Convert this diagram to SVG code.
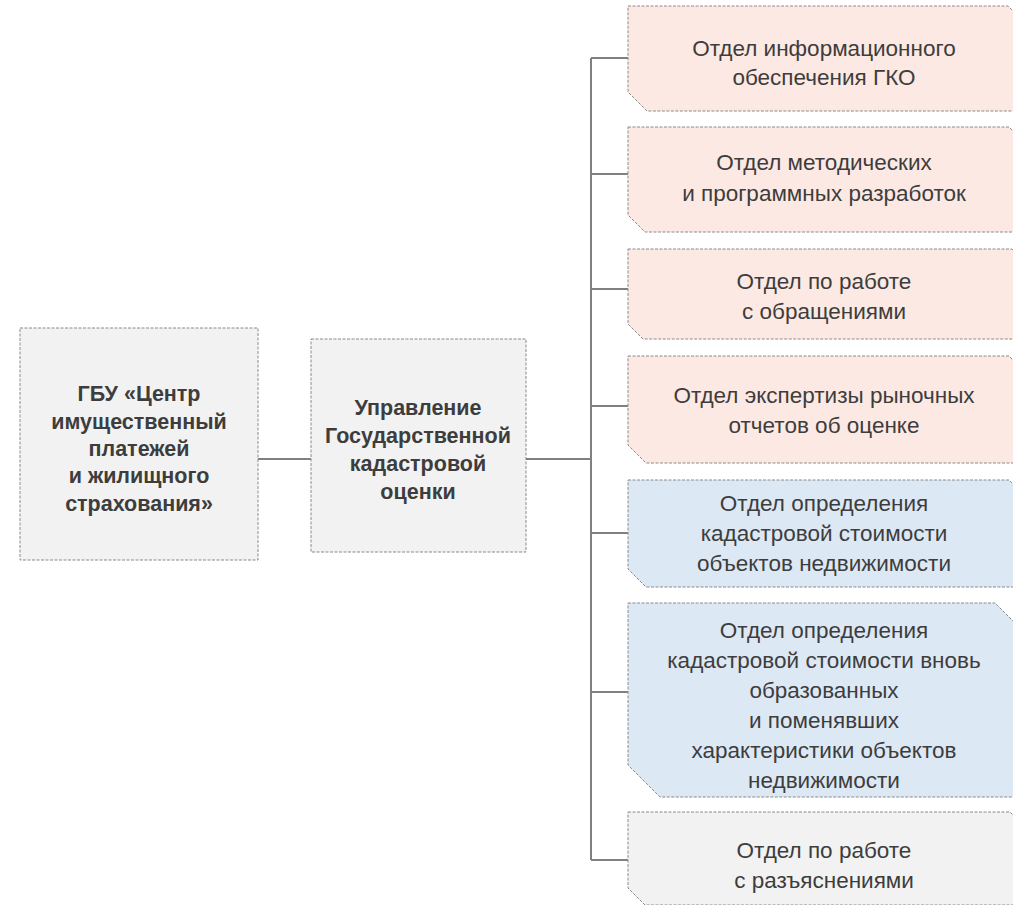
<svg xmlns="http://www.w3.org/2000/svg" width="1013" height="905" viewBox="0 0 1013 905">
<style>
.box{stroke:#8a8a8a;stroke-width:1;stroke-dasharray:3 1.5}
.pink{fill:#fde9e3}
.blue{fill:#dde8f5}
.gray{fill:#f2f2f2}
.conn{stroke:#808080;stroke-width:2;fill:none}
.t{font-family:"Liberation Sans",Arial,sans-serif;font-size:22.5px;fill:#3d3d3d;text-anchor:middle}
.b{font-weight:bold;font-size:21.5px}
</style>
<rect width="1013" height="905" fill="#ffffff"/>
<g id="connectors">
<path class="conn" d="M258 459H311M526 459H591M591 58V860"/>
<path class="conn" d="M591 58H628M591 174H628M591 289H628M591 406H628M591 533H628M591 692H628M591 860H628"/>
</g>
<g id="n-gbu">
<rect class="box gray" x="20" y="328" width="238" height="232"/>
<text class="t b" x="139" y="401">ГБУ «Центр</text>
<text class="t b" x="139" y="429">имущественный</text>
<text class="t b" x="139" y="456">платежей</text>
<text class="t b" x="139" y="483">и жилищного</text>
<text class="t b" x="139" y="511">страхования»</text>
</g>
<g id="n-upr">
<rect class="box gray" x="311" y="339" width="215" height="213"/>
<text class="t b" x="418" y="415">Управление</text>
<text class="t b" x="418" y="443">Государственной</text>
<text class="t b" x="418" y="471">кадастровой</text>
<text class="t b" x="418" y="499">оценки</text>
</g>
<g id="n1">
<path class="box pink" d="M628 6H1008L1027 25V111H647L628 92Z"/>
<text class="t" x="824" y="56">Отдел информационного</text>
<text class="t" x="824" y="85">обеспечения ГКО</text>
</g>
<g id="n2">
<path class="box pink" d="M628 127H1009L1027 145V232H645L628 215Z"/>
<text class="t" x="824" y="170">Отдел методических</text>
<text class="t" x="824" y="201">и программных разработок</text>
</g>
<g id="n3">
<path class="box pink" d="M628 249H1012L1027 264V339H643L628 324Z"/>
<text class="t" x="824" y="289">Отдел по работе</text>
<text class="t" x="824" y="319">с обращениями</text>
</g>
<g id="n4">
<path class="box pink" d="M628 356H1009L1027 374V463H646L628 445Z"/>
<text class="t" x="824" y="403">Отдел экспертизы рыночных</text>
<text class="t" x="824" y="433">отчетов об оценке</text>
</g>
<g id="n5">
<path class="box blue" d="M628 480H1009L1027 498V587H646L628 569Z"/>
<text class="t" x="824" y="511">Отдел определения</text>
<text class="t" x="824" y="541">кадастровой стоимости</text>
<text class="t" x="824" y="571">объектов недвижимости</text>
</g>
<g id="n6">
<path class="box blue" d="M628 603H995L1027 635V797H660L628 765Z"/>
<text class="t" x="824" y="638">Отдел определения</text>
<text class="t" x="824" y="668">кадастровой стоимости вновь</text>
<text class="t" x="824" y="698">образованных</text>
<text class="t" x="824" y="728">и поменявших</text>
<text class="t" x="824" y="758">характеристики объектов</text>
<text class="t" x="824" y="788">недвижимости</text>
</g>
<g id="n7">
<path class="box gray" d="M628 812H1010L1027 829V905H645L628 888Z"/>
<text class="t" x="824" y="858">Отдел по работе</text>
<text class="t" x="824" y="888">с разъяснениями</text>
</g>
</svg>
